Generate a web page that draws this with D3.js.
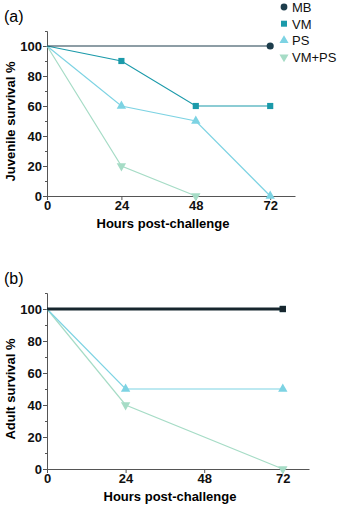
<!DOCTYPE html>
<meta charset="utf-8">
<script src="https://d3js.org/d3.v7.min.js"></script>
<style>
  body { margin: 0; background: white; }
  text { font-family: "Liberation Sans", Arial, sans-serif; }
</style>
<div id="chart"></div>
<script>
// series names and colours
var seriesNames = ["MB", "VM", "PS", "VM+PS"];
var seriesColors = ["#1d3d4c", "#1b9aaa", "#7dd3e3", "#a6dcc6"];
var xTicks = [0, 24, 48, 72];
var yTicks = [0, 20, 40, 60, 80, 100];

// juvenile survival (panel a)
var juvHours = {"MB": [0, 72], "VM": [0, 24, 48, 72], "PS": [0, 24, 48, 72], "VM+PS": [0, 24, 48]};
var juvValues = {"MB": [100, 100], "VM": [100, 90, 60, 60], "PS": [100, 60, 50, 0], "VM+PS": [100, 20, 0]};

// adult survival (panel b)
var adultHours = {"MB": [0, 72], "VM": [0, 72], "PS": [0, 24, 72], "VM+PS": [0, 24, 72]};
var adultValues = {"MB": [100, 100], "VM": [100, 100], "PS": [100, 50, 50], "VM+PS": [100, 40, 0]};

var svg = d3.select("#chart").append("svg")
  .attr("width", 361)
  .attr("height", 507);

var color = d3.scaleOrdinal().domain(seriesNames).range(seriesColors);
var symbols = {
  "MB": d3.symbolCircle,
  "VM": d3.symbolSquare,
  "PS": d3.symbolTriangle,
  "VM+PS": d3.symbolTriangle
};

function drawPanel(opts) {
  var g = svg.append("g");
  var x = d3.scaleLinear().domain([0, 80]).range([opts.left, opts.right]);
  var y = d3.scaleLinear().domain([0, 110]).range([opts.bottom, opts.top]);

  // y axis with minor ticks
  var yAxis = g.append("g").attr("transform", "translate(" + opts.left + ",0)");
  yAxis.call(d3.axisLeft(y).tickValues(d3.range(0, 111, 10)).tickSize(2).tickFormat(""));
  var yMajor = g.append("g").attr("transform", "translate(" + opts.left + ",0)")
    .call(d3.axisLeft(y).tickValues(yTicks).tickSize(4).tickSizeOuter(0));
  yMajor.select(".domain").remove();
  yMajor.selectAll("text")
    .attr("x", -5)
    .style("font-size", "13px").style("font-weight", "bold").attr("fill", "#111");

  var xAxis = g.append("g").attr("transform", "translate(0," + opts.bottom + ")")
    .call(d3.axisBottom(x).tickValues(xTicks).tickSize(4).tickSizeOuter(0));
  xAxis.selectAll("text")
    .attr("y", 5)
    .style("font-size", "13px").style("font-weight", "bold").attr("fill", "#111");

  g.selectAll(".domain, .tick line").attr("stroke", "#555");

  g.append("text")
    .attr("x", (opts.left + opts.right) / 2 - 8)
    .attr("y", opts.bottom + 32)
    .attr("text-anchor", "middle")
    .style("font-size", "13px").style("font-weight", "bold")
    .text("Hours post-challenge");

  g.append("text")
    .attr("transform", "rotate(-90)")
    .attr("x", -(opts.top + opts.bottom) / 2 - 8)
    .attr("y", 15)
    .attr("text-anchor", "middle")
    .style("font-size", "13px").style("font-weight", "bold")
    .text(opts.yTitle);

  g.append("text")
    .attr("x", 4)
    .attr("y", opts.top - 9)
    .style("font-size", "16px")
    .text(opts.label);

  var line = d3.line().x(function(d) { return x(d[0]); }).y(function(d) { return y(d[1]); });

  // draw in reverse so MB sits on top
  seriesNames.slice().reverse().forEach(function(name) {
    var pts = d3.zip(opts.hours[name], opts.values[name]);
    var wide = name === "MB" && opts.thickMB;
    g.append("path")
      .datum(pts)
      .attr("fill", "none")
      .attr("stroke", wide ? "#17262e" : color(name))
      .attr("stroke-width", wide ? 3 : 1.2)
      .attr("d", line);
    g.selectAll(null)
      .data(pts.filter(function(d) { return d[0] > 0; }))
      .enter().append("path")
      .attr("d", d3.symbol().type(wide ? d3.symbolSquare : symbols[name]).size(name === "MB" ? 40 : 38))
      .attr("transform", function(d) {
        return "translate(" + x(d[0]) + "," + y(d[1]) + ")" + (name === "VM+PS" ? " rotate(180)" : "");
      })
      .attr("fill", wide ? "#17262e" : color(name));
  });
}

drawPanel({left: 47, right: 295, top: 31, bottom: 196, yTitle: "Juvenile survival %", label: "(a)",
  hours: juvHours, values: juvValues, thickMB: false});
drawPanel({left: 47, right: 309, top: 293, bottom: 469, yTitle: "Adult survival %", label: "(b)",
  hours: adultHours, values: adultValues, thickMB: true});

// legend
var legend = svg.append("g");
seriesNames.forEach(function(name, i) {
  var ly = 7 + i * 16.7;
  legend.append("path")
    .attr("d", d3.symbol().type(symbols[name]).size(36))
    .attr("transform", "translate(284," + ly + ")" + (name === "VM+PS" ? " rotate(180)" : ""))
    .attr("fill", color(name));
  legend.append("text")
    .attr("x", 292)
    .attr("y", ly + 5)
    .style("font-size", "13px")
    .attr("fill", "#111")
    .text(name);
});
</script>
